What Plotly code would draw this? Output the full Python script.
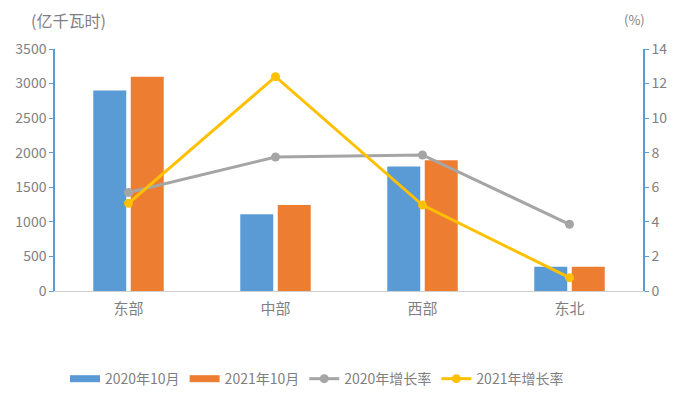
import plotly.graph_objects as go

categories = ["东部", "中部", "西部", "东北"]
val_2020_10 = [2900, 1110, 1800, 350]
val_2021_10 = [3100, 1245, 1890, 350]
growth_2020 = [5.7, 7.75, 7.87, 3.86]
growth_2021 = [5.07, 12.4, 4.97, 0.77]

font_family = "Noto Sans CJK SC, Noto Sans, sans-serif"
txt = "#7f7f7f"
blue, orange, gray, yellow = "#5B9BD5", "#ED7D31", "#A5A5A5", "#FFC000"

fig = go.Figure()
fig.add_trace(go.Bar(x=categories, y=val_2020_10, name="2020年10月", showlegend=False,
                     marker=dict(color=blue, line=dict(width=0))))
fig.add_trace(go.Bar(x=categories, y=val_2021_10, name="2021年10月", showlegend=False,
                     marker=dict(color=orange, line=dict(width=0))))
# legend proxies for the bars (wide rectangle keys as in the reference)
fig.add_trace(go.Scatter(x=[None], y=[None], name="2020年10月", mode="lines",
                         line=dict(color=blue, width=7)))
fig.add_trace(go.Scatter(x=[None], y=[None], name="2021年10月", mode="lines",
                         line=dict(color=orange, width=7)))
fig.add_trace(go.Scatter(x=categories, y=growth_2020, name="2020年增长率", yaxis="y2",
                         mode="lines+markers", line=dict(color=gray, width=3),
                         marker=dict(color=gray, size=9)))
fig.add_trace(go.Scatter(x=categories, y=growth_2021, name="2021年增长率", yaxis="y2",
                         mode="lines+markers", line=dict(color=yellow, width=3),
                         marker=dict(color=yellow, size=9)))

fig.update_layout(
    width=673, height=387,
    margin=dict(l=47, r=38, t=41, b=104, autoexpand=False),
    paper_bgcolor="white", plot_bgcolor="white",
    font=dict(family=font_family, color=txt, size=13),
    barmode="group", bargap=0.49, bargroupgap=0.12,
    showlegend=True,
    legend=dict(orientation="h", x=0.017, xanchor="left", y=-0.364, yanchor="middle",
                font=dict(size=14, color=txt), itemwidth=30,
                traceorder="normal"),
    xaxis=dict(showgrid=False, showline=True, linecolor="#d0d0d0", linewidth=1,
               ticks="", tickfont=dict(size=15, color=txt), automargin=False,
               ticklabelstandoff=4),
    yaxis=dict(range=[0, 3500], dtick=500, showgrid=False, showline=True,
               linecolor=blue, linewidth=1.5, ticks="outside", ticklen=4,
               tickcolor=blue, zeroline=False, automargin=False,
               tickfont=dict(size=14, color=txt)),
    yaxis2=dict(range=[0, 14], dtick=2, overlaying="y", side="right", showgrid=False,
                showline=True, linecolor=blue, linewidth=1.5, ticks="outside",
                ticklen=4, tickcolor=blue, zeroline=False, automargin=False,
                tickfont=dict(size=14, color=txt)),
    annotations=[
        dict(text="(亿千瓦时)", xref="paper", yref="paper", x=-0.045, y=1.12,
             xanchor="left", yanchor="middle", showarrow=False,
             font=dict(size=16, color=txt)),
        dict(text="(%)", xref="paper", yref="paper", x=0.986, y=1.12,
             xanchor="center", yanchor="middle", showarrow=False,
             font=dict(size=13, color=txt)),
    ],
)

fig.write_html("out.html")
